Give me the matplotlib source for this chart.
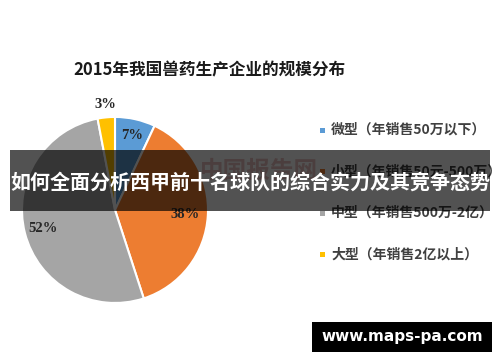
"""
Pie chart: 2015 scale distribution of veterinary drug producers, with banner overlay.
"""

import numpy as np
import matplotlib
matplotlib.use('Agg')
import matplotlib.pyplot as plt
import matplotlib.patches as mpatches

plt.rcParams['font.family'] = ['Noto Sans CJK SC', 'DejaVu Sans']

# Data
title = "2015年我国兽药生产企业的规模分布"
categories = ["微型（年销售50万以下）", "小型（年销售50元-500万）",
              "中型（年销售500万-2亿）", "大型（年销售2亿以上）"]
shares = [7, 38, 52, 3]
pct_labels = ["7%", "38%", "52%", "3%"]
banner_text = "如何全面分析西甲前十名球队的综合实力及其竞争态势"
site_text = "www.maps-pa.com"

# Office-style palette
colors = ['#5B9BD5', '#ED7D31', '#A5A5A5', '#FFC000']
label_dist = [0.82, 0.76, 0.80, 1.14]

fig = plt.figure(figsize=(5.0, 3.62), dpi=100)
fig.patch.set_facecolor('white')

fig.text(0.146, 0.805, title, fontsize=12, fontweight='bold', color='#1a1a1a',
         ha='left', va='center')

# Pie
ax = fig.add_axes([0.044, 0.163, 0.372, 0.514])
wedges, _ = ax.pie(shares, colors=colors, startangle=90, counterclock=False,
                   wedgeprops=dict(edgecolor='white', linewidth=1.5))
ax.set_aspect('equal')
ax.set_xlim(-1, 1)
ax.set_ylim(-1, 1)

for w, lab, d in zip(wedges, pct_labels, label_dist):
    ang = np.deg2rad((w.theta1 + w.theta2) / 2)
    ax.text(d * np.cos(ang), d * np.sin(ang), lab, ha='center', va='center',
            fontsize=10.5, fontweight='bold', color='#262626',
            family=['Liberation Serif', 'DejaVu Serif'])

# Legend (manual)
for i, (cat, c) in enumerate(zip(categories, colors)):
    y = 1 - (130 + i * 41.5) / 362
    fig.patches.append(mpatches.Rectangle((0.640, y - 0.008), 0.010, 0.014,
                                          transform=fig.transFigure,
                                          facecolor=c, edgecolor='none'))
    fig.text(0.662, y, cat, fontsize=10, fontweight='bold', color='#404040',
             ha='left', va='center')

# faint source watermark behind the banner
fig.text(0.40, 1 - 171 / 362, "中国报告网", fontsize=17, fontweight='bold',
         color='#c0504d', alpha=0.35, ha='left', va='center')

# Banner overlay
fig.patches.append(mpatches.Rectangle((0.02, 1 - 211 / 362), 0.96, 61 / 362,
                                      transform=fig.transFigure,
                                      facecolor='black', alpha=0.68,
                                      edgecolor='none', zorder=5))
fig.text(0.5, 1 - 182 / 362, banner_text, fontsize=14.4, fontweight='bold',
         color='white', ha='center', va='center', zorder=6)

# Site box
fig.patches.append(mpatches.Rectangle((0.624, 1 - 352 / 362), 0.36, 30 / 362,
                                      transform=fig.transFigure,
                                      facecolor='black', edgecolor='none',
                                      zorder=5))
fig.text(0.804, 1 - 337 / 362, site_text, fontsize=11, fontweight='bold',
         color='white', ha='center', va='center', zorder=6,
         family=['DejaVu Sans'])

fig.savefig('out.png', dpi=100)
